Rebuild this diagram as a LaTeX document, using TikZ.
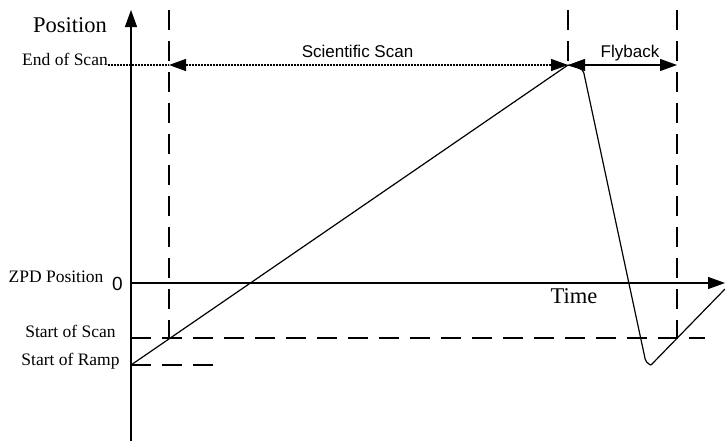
\documentclass[tikz,border=0pt]{standalone}
\usepackage{fontspec}
\setmainfont{Liberation Serif}
\setsansfont{Liberation Sans}
\usetikzlibrary{arrows.meta}
\tikzset{
  axis/.style={line width=1.2pt, -{Triangle[length=17pt,width=12pt]}},
  longdash/.style={line width=1.2pt, dash pattern=on 20pt off 11pt},
  span/.style={line width=1.2pt, {Triangle[length=17pt,width=12pt]}-{Triangle[length=17pt,width=12pt]}},
  lbl/.style={font=\fontsize{17.5}{20}\selectfont, inner sep=0pt, anchor=base},
  biglbl/.style={font=\fontsize{22.5}{26}\selectfont, inner sep=0pt, anchor=base},
  sflbl/.style={font=\sffamily\fontsize{17}{20}\selectfont, inner sep=0pt, anchor=base}
}
\begin{document}
\begin{tikzpicture}[x=1pt, y=-1pt]
    \useasboundingbox (0,0) rectangle (725,445);

    % Key points
    \coordinate (origin) at (131,283);
    \coordinate (ramp) at (131,365);
    \coordinate (scanstart) at (169,338);
    \coordinate (apex) at (568,65);
    \coordinate (flyend) at (677,65);
    \coordinate (low) at (651,365);

    % Axes
    \draw[axis] (131,441) -- (131,10);
    \draw[axis] (origin) -- (725,283);
    \node[biglbl] (poslbl) at (70,32) {Position};
    \node[biglbl] (timelbl) at (574,303) {Time};

    % Dashed markers
    \foreach \x/\y in {169/338, 568/65, 677/338}
        \draw[longdash] (\x,10) -- (\x,\y);
    \draw[longdash] (origin |- scanstart) -- (705,338);
    \draw[longdash] (ramp) -- (213,365);

    % Level labels
    \node[lbl] (eoslbl) at (65,65) {End of Scan};
    \node[lbl] (zpdlbl) at (56,282) {ZPD Position};
    \node[sflbl, font=\sffamily\fontsize{19}{22}\selectfont] (zero) at (117.5,290) {0};
    \node[lbl] (soslbl) at (70.5,337) {Start of Scan};
    \node[lbl] (sorlbl) at (70.5,365) {Start of Ramp};

    % Scan and flyback spans
    \draw[line width=1.2pt, dash pattern=on 2pt off 1pt] (eoslbl.base east) -- (169,65);
    \draw[span, dash pattern=on 2pt off 1pt] (169,65) -- (apex);
    \draw[span] (apex) -- (flyend);
    \node[sflbl] (scanlbl) at (357.5,57) {Scientific Scan};
    \node[sflbl] (flylbl) at (630,57) {Flyback};

    % Mirror position
    \draw[line width=1.2pt] (ramp) -- (apex);
    \draw[line width=1.2pt, rounded corners=4pt] (apex) -- (583,69) -- (646,363) -- (low);
    \draw[line width=1.2pt] (low) -- (725,289);
\end{tikzpicture}
\end{document}
